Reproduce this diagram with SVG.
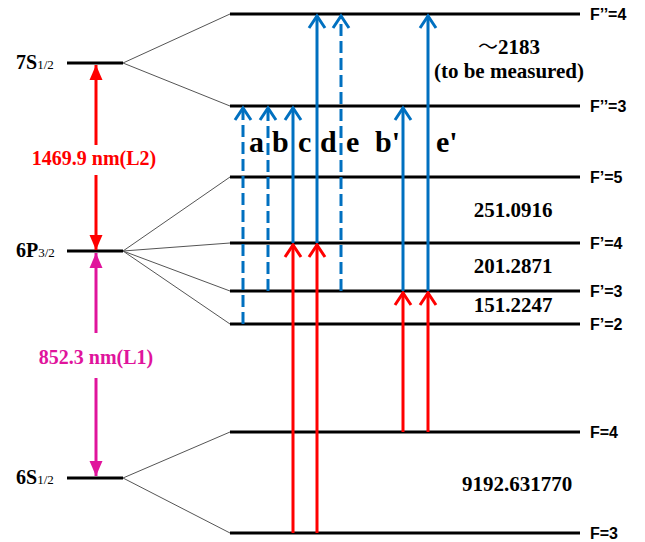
<svg xmlns="http://www.w3.org/2000/svg" width="645" height="542" viewBox="0 0 645 542">
<style>
.lvl{stroke:#000;stroke-width:3;fill:none}
.fan{stroke:#555;stroke-width:1;fill:none}
.blue{stroke:#0070C0;stroke-width:3;fill:none;marker-end:url(#bh)}
.dash{stroke-dasharray:12 5}
.red{stroke:#FF0000;stroke-width:3;fill:none;marker-end:url(#rh)}
.st{font-family:"Liberation Serif",serif;font-weight:bold;font-size:20px;fill:#000}
.sub{font-family:"Liberation Serif",serif;font-size:13px;fill:#000}
.fl{font-family:"Liberation Sans",Arial,sans-serif;font-weight:bold;font-size:16px;fill:#000}
.num{font-family:"Liberation Serif",serif;font-weight:bold;font-size:21px;fill:#000}
.let{font-family:"Liberation Serif",serif;font-weight:bold;font-size:30px;fill:#000}
</style>
<defs>
<marker id="bh" markerUnits="userSpaceOnUse" viewBox="-16 -10 18 20" markerWidth="18" markerHeight="20" refX="0" refY="0" orient="auto">
<path d="M-13,-8 L-1,0 L-13,8" fill="none" stroke="#0070C0" stroke-width="3"/>
</marker>
<marker id="rh" markerUnits="userSpaceOnUse" viewBox="-16 -10 18 20" markerWidth="18" markerHeight="20" refX="0" refY="0" orient="auto">
<path d="M-13,-8 L-1,0 L-13,8" fill="none" stroke="#FF0000" stroke-width="3"/>
</marker>
<marker id="rt" markerUnits="userSpaceOnUse" viewBox="-16 -8 17 16" markerWidth="17" markerHeight="16" refX="0" refY="0" orient="auto">
<path d="M-15,-6.5 L0,0 L-15,6.5 Z" fill="#FF0000"/>
</marker>
<marker id="mt" markerUnits="userSpaceOnUse" viewBox="-16 -8 17 16" markerWidth="17" markerHeight="16" refX="0" refY="0" orient="auto">
<path d="M-15,-6.5 L0,0 L-15,6.5 Z" fill="#E0149C"/>
</marker>
</defs>
<rect width="645" height="542" fill="#fff"/>

<g id="s7">
<line class="lvl" x1="67" y1="63" x2="123" y2="63"/>
<text class="st" x="16" y="69">7S<tspan class="sub" font-weight="normal">1/2</tspan></text>
</g>
<g id="p6">
<line class="lvl" x1="67" y1="251" x2="123" y2="251"/>
<text class="st" x="16" y="257">6P<tspan class="sub" font-weight="normal">3/2</tspan></text>
</g>
<g id="s6">
<line class="lvl" x1="67" y1="478" x2="123" y2="478"/>
<text class="st" x="16" y="484">6S<tspan class="sub" font-weight="normal">1/2</tspan></text>
</g>

<g id="fpp4"><line class="lvl" x1="230" y1="14" x2="580" y2="14"/><text class="fl" x="590" y="20">F’’=4</text></g>
<g id="fpp3"><line class="lvl" x1="230" y1="106" x2="580" y2="106"/><text class="fl" x="590" y="112">F’’=3</text></g>
<g id="fp5"><line class="lvl" x1="230" y1="177" x2="580" y2="177"/><text class="fl" x="590" y="183">F’=5</text></g>
<g id="fp4"><line class="lvl" x1="230" y1="243" x2="580" y2="243"/><text class="fl" x="590" y="249">F’=4</text></g>
<g id="fp3"><line class="lvl" x1="230" y1="291" x2="580" y2="291"/><text class="fl" x="590" y="297">F’=3</text></g>
<g id="fp2"><line class="lvl" x1="230" y1="324" x2="580" y2="324"/><text class="fl" x="590" y="330">F’=2</text></g>
<g id="f4"><line class="lvl" x1="230" y1="432" x2="580" y2="432"/><text class="fl" x="590" y="438">F=4</text></g>
<g id="f3"><line class="lvl" x1="230" y1="533" x2="580" y2="533"/><text class="fl" x="590" y="539">F=3</text></g>

<g id="splits">
<text class="num" x="478" y="54"><tspan font-family="'Noto Sans CJK SC',sans-serif" font-weight="normal" font-size="20">～</tspan>2183</text>
<text class="num" x="509" y="78" text-anchor="middle">(to be measured)</text>
<text class="num" x="513" y="217" text-anchor="middle">251.0916</text>
<text class="num" x="513" y="273" text-anchor="middle">201.2871</text>
<text class="num" x="513" y="312" text-anchor="middle">151.2247</text>
<text class="num" x="517" y="491" text-anchor="middle">9192.631770</text>
</g>

<g id="labels">
<text class="let" x="249" y="152">a</text>
<text class="let" x="272" y="152">b</text>
<text class="let" x="298" y="152">c</text>
<text class="let" x="320" y="152">d</text>
<text class="let" x="346" y="152">e</text>
<text class="let" x="375" y="152">b'</text>
<text class="let" x="436" y="152">e'</text>
</g>

<g id="connectors">
<line class="fan" x1="123" y1="63" x2="230" y2="14"/>
<line class="fan" x1="123" y1="63" x2="230" y2="106"/>
<line class="fan" x1="123" y1="251" x2="230" y2="177"/>
<line class="fan" x1="123" y1="251" x2="230" y2="243"/>
<line class="fan" x1="123" y1="251" x2="230" y2="291"/>
<line class="fan" x1="123" y1="251" x2="230" y2="324"/>
<line class="fan" x1="123" y1="478" x2="230" y2="432"/>
<line class="fan" x1="123" y1="478" x2="230" y2="533"/>

<line x1="96" y1="145" x2="96" y2="65" stroke="#FF0000" stroke-width="3" marker-end="url(#rt)"/>
<line x1="96" y1="175" x2="96" y2="250" stroke="#FF0000" stroke-width="3" marker-end="url(#rt)"/>
<text x="94" y="165" text-anchor="middle" font-family="'Liberation Serif',serif" font-weight="bold" font-size="20" fill="#FF0000">1469.9 nm(L2)</text>

<line x1="96" y1="333" x2="96" y2="253" stroke="#E0149C" stroke-width="3" marker-end="url(#mt)"/>
<line x1="96" y1="378" x2="96" y2="476" stroke="#E0149C" stroke-width="3" marker-end="url(#mt)"/>
<text x="96" y="364" text-anchor="middle" font-family="'Liberation Serif',serif" font-weight="bold" font-size="20" fill="#E0149C">852.3 nm(L1)</text>

<line class="red" x1="293" y1="533" x2="293" y2="244"/>
<line class="red" x1="317" y1="533" x2="317" y2="244"/>
<line class="red" x1="403" y1="432" x2="403" y2="292"/>
<line class="red" x1="428" y1="432" x2="428" y2="292"/>

<line class="blue dash" x1="243" y1="324" x2="243" y2="107"/>
<line class="blue dash" x1="268" y1="291" x2="268" y2="107"/>
<line class="blue" x1="293" y1="243" x2="293" y2="107"/>
<line class="blue" x1="317" y1="243" x2="317" y2="15"/>
<line class="blue dash" x1="341" y1="291" x2="341" y2="15"/>
<line class="blue" x1="403" y1="291" x2="403" y2="107"/>
<line class="blue" x1="428" y1="291" x2="428" y2="15"/>
</g>
</svg>
